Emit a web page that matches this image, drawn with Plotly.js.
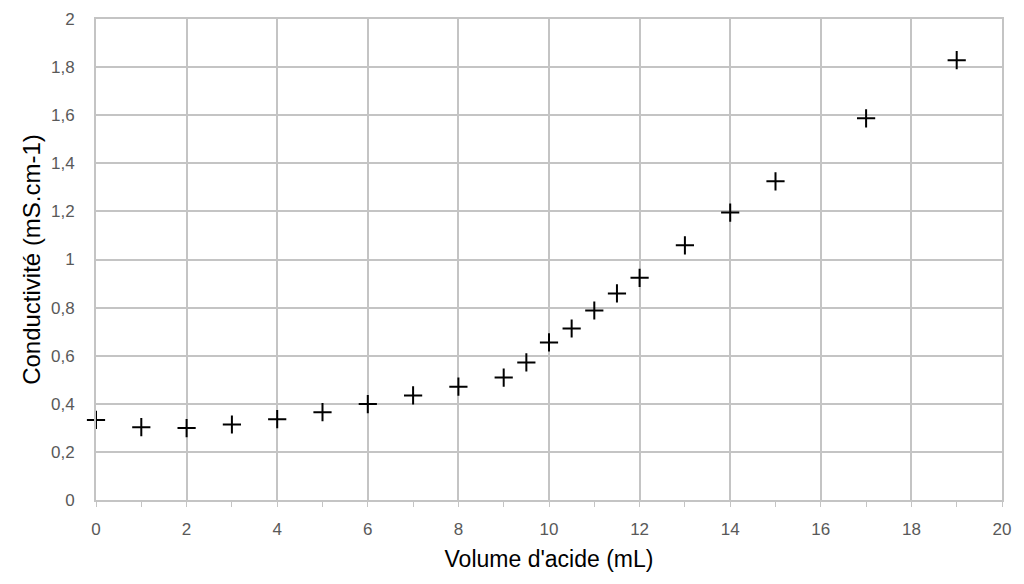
<!DOCTYPE html>
<html>
<head>
<meta charset="utf-8">
<script src="https://cdn.plot.ly/plotly-3.0.1.min.js"></script>
<style>html,body{margin:0;padding:0;background:#fff}#chart{width:1024px;height:584px}</style>
</head>
<body>
<div id="chart"></div>
<script>
const volume = [0, 1, 2, 3, 4, 5, 6, 7, 8, 9, 9.5, 10, 10.5, 11, 11.5, 12, 13, 14, 15, 17, 19];
const conductivite = [0.333, 0.303, 0.299, 0.314, 0.336, 0.365, 0.399, 0.435, 0.471, 0.509, 0.572, 0.655, 0.713, 0.788, 0.859, 0.924, 1.059, 1.195, 1.325, 1.587, 1.829];
const xTitle = "Volume d'acide (mL)";
const yTitle = "Conductivité (mS.cm-1)";

const trace = {
  x: volume, y: conductivite, type: 'scatter', mode: 'markers',
  cliponaxis: false,
  marker: {symbol: 'cross-thin-open', size: 13, color: '#000', line: {color: '#000', width: 2}},
  hoverinfo: 'x+y'
};
const grid = '#c4c4c4';
const layout = {
  width: 1024, height: 584,
  margin: {l: 96, r: 22, t: 19, b: 84},
  paper_bgcolor: '#fff', plot_bgcolor: '#fff',
  separators: ', ',
  showlegend: false,
  font: {family: 'Liberation Sans, Arial, sans-serif', color: '#595959'},
  xaxis: {
    range: [0, 20], dtick: 2, tick0: 0,
    showgrid: true, gridcolor: grid, gridwidth: 2,
    showline: true, linecolor: grid, linewidth: 2, mirror: true,
    ticks: 'outside', ticklen: 5, tickcolor: grid, tickwidth: 1,
    minor: {dtick: 1, ticks: 'outside', ticklen: 5, tickcolor: grid, tickwidth: 1, showgrid: false},
    ticklabelstandoff: 8,
    zeroline: false,
    tickfont: {size: 17, color: '#595959'},
    title: {text: xTitle, font: {size: 23, color: '#000'}, standoff: 12}
  },
  yaxis: {
    range: [0, 2], dtick: 0.2, tick0: 0,
    showgrid: true, gridcolor: grid, gridwidth: 2,
    showline: true, linecolor: grid, linewidth: 2, mirror: true,
    ticks: '', zeroline: false,
    ticklabelstandoff: 16,
    tickfont: {size: 17, color: '#595959'},
    title: {text: yTitle, font: {size: 24, color: '#000'}, standoff: 4}
  }
};
Plotly.newPlot('chart', [trace], layout, {displayModeBar: false, staticPlot: true});
</script>
</body>
</html>
